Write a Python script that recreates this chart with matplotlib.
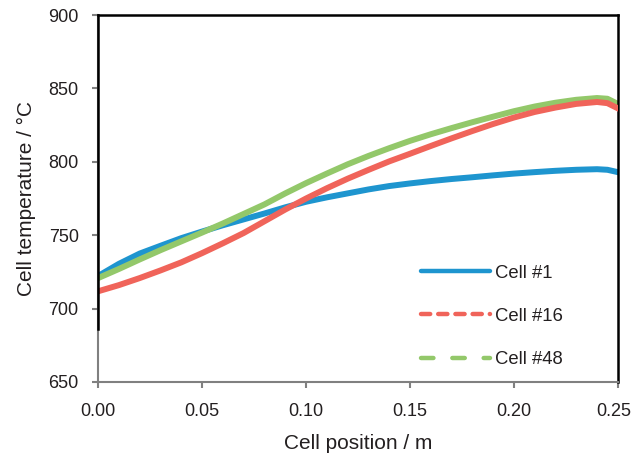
import matplotlib
matplotlib.use("Agg")
import matplotlib.pyplot as plt
from matplotlib.lines import Line2D
from matplotlib.transforms import ScaledTranslation

plt.rcParams['font.family'] = ['Liberation Sans', 'DejaVu Sans']

# Cell temperature profiles along the cell length (°C vs m)
position = [0.00, 0.01, 0.02, 0.03, 0.04, 0.05, 0.06, 0.07, 0.08, 0.09,
            0.10, 0.11, 0.12, 0.13, 0.14, 0.15, 0.16, 0.17, 0.18, 0.19,
            0.20, 0.21, 0.22, 0.23, 0.24, 0.245, 0.25]
cell_1 = [722.2, 730.5, 737.5, 742.8, 748.0, 752.5, 756.8, 760.8, 764.8, 769.0,
          772.8, 775.8, 778.5, 781.2, 783.5, 785.3, 786.9, 788.3, 789.5, 790.8,
          792.0, 793.0, 793.9, 794.6, 795.0, 794.6, 793.0]
cell_16 = [711.8, 716.0, 720.8, 726.0, 731.5, 737.8, 744.5, 751.5, 759.5, 767.5,
           775.0, 782.0, 788.5, 794.5, 800.3, 805.5, 810.8, 816.0, 821.0, 825.8,
           830.2, 834.0, 837.0, 839.5, 840.8, 840.0, 836.5]
cell_48 = [720.8, 727.0, 733.5, 739.8, 745.8, 751.8, 758.0, 764.5, 771.0, 778.5,
           785.5, 792.0, 798.3, 804.0, 809.3, 814.3, 818.8, 823.0, 827.0, 830.8,
           834.5, 837.7, 840.3, 842.3, 843.5, 843.0, 839.5]
labels = ["Cell #1", "Cell #16", "Cell #48"]
x_ticks = [0.00, 0.05, 0.10, 0.15, 0.20, 0.25]
y_ticks = [650, 700, 750, 800, 850, 900]

colors = ["#1e95cf", "#f0645a", "#93c86a"]
legend_dashes = [None, (2.07, 1.8), (2.8, 4.25)]
text_color = "#231f20"
axis_gray = "#808080"

fig = plt.figure(figsize=(6.33, 4.58), dpi=100)
ax = fig.add_axes([0.155, 0.166, 0.821, 0.801])

ax.plot(position, cell_1, color=colors[0], lw=4.3, solid_joinstyle="round", zorder=2)
ax.plot(position, cell_48, color=colors[2], lw=4.3, solid_joinstyle="round", zorder=2.3)
ax.plot(position, cell_16, color=colors[1], lw=4.3, solid_joinstyle="round", zorder=2.6)

ax.set_xlim(0, 0.25)
ax.set_ylim(650, 900)
ax.set_xticks(x_ticks)
ax.set_xticklabels([f"{v:.2f}" for v in x_ticks])
ax.set_yticks(y_ticks)
ax.tick_params(axis="both", direction="out", length=4.5, width=1.5,
               color=axis_gray, labelsize=13, labelcolor=text_color, pad=9.5)
ax.tick_params(axis="x", pad=11)

# keep the last x tick label inside the figure edge
last_label = ax.get_xticklabels()[-1]
last_label.set_transform(last_label.get_transform()
                         + ScaledTranslation(-4 / 100, 0, fig.dpi_scale_trans))

for side in ("left", "bottom"):
    ax.spines[side].set_color(axis_gray)
    ax.spines[side].set_linewidth(1.5)
for side in ("top", "right"):
    ax.spines[side].set_color("black")
    ax.spines[side].set_linewidth(1.8)

# black plot-area border over the upper part of the left axis
ax.plot([0, 0], [686, 900], color="black", lw=1.8, clip_on=False, zorder=4)

ax.set_xlabel("Cell position / m", fontsize=15, color=text_color, labelpad=10)
ax.set_ylabel("Cell temperature / °C", fontsize=15, color=text_color, labelpad=9)

handles = []
for c, d in zip(colors, legend_dashes):
    h = Line2D([], [], color=c, lw=3.2, solid_capstyle="round", dash_capstyle="round")
    if d is not None:
        h.set_dashes(d)
    handles.append(h)
leg = ax.legend(handles, labels, loc="upper left", bbox_to_anchor=(0.621, 0.32),
                frameon=False, handlelength=3.75, handletextpad=0.27,
                labelspacing=1.42, fontsize=13.3, borderaxespad=0, borderpad=0)
for t in leg.get_texts():
    t.set_color(text_color)

fig.savefig("out.png", dpi=100)
